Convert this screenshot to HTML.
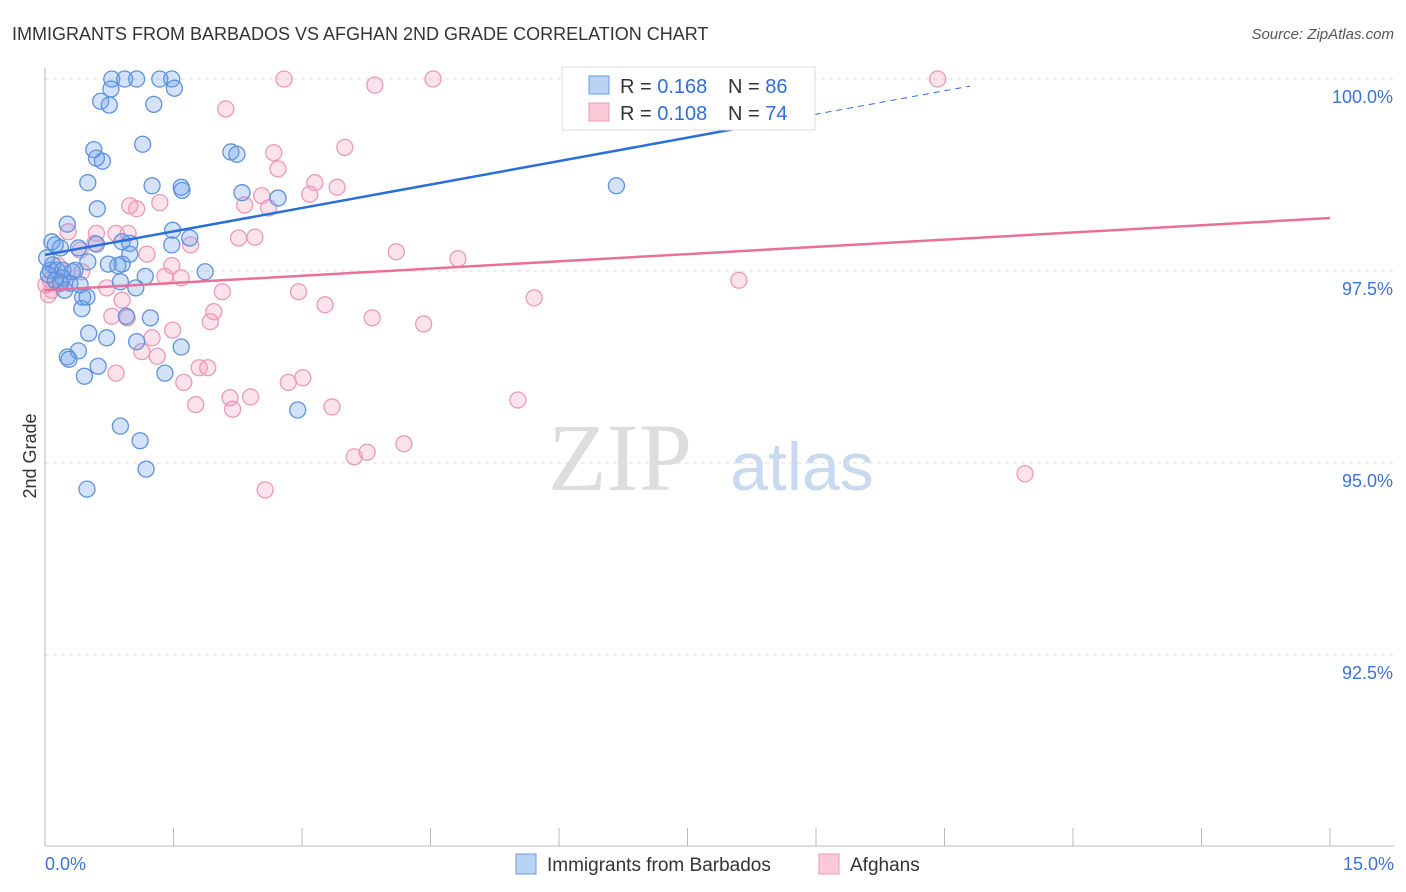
<!DOCTYPE html>
<html><head><meta charset="utf-8"><style>
body{margin:0;background:#fff;font-family:"Liberation Sans",sans-serif;}
svg{display:block}
</style></head><body>
<svg id="chart" width="1406" height="892">
<text x="12" y="40" font-size="18" fill="#333">IMMIGRANTS FROM BARBADOS VS AFGHAN 2ND GRADE CORRELATION CHART</text>
<text x="1394" y="39" font-size="15" fill="#555" font-style="italic" text-anchor="end">Source: ZipAtlas.com</text>
<text x="36" y="456" font-size="18" fill="#333" transform="rotate(-90 36 456)" text-anchor="middle">2nd Grade</text>
<text x="620" y="490" font-size="96" fill="#ddd" font-family="Liberation Serif" text-anchor="middle">ZIP</text>
<text x="802" y="490" font-size="68" fill="#c9d9ef" text-anchor="middle">atlas</text>
<g id="grid"></g><g id="axes"></g><g id="pts"></g><g id="trends"></g>
<g>
<rect x="562" y="67" width="253" height="63" fill="#fff" stroke="#ddd"/>
<rect x="589" y="76" width="20" height="18" fill="#b9d3f5" stroke="#6a9be0"/>
<text x="620" y="93" font-size="20" fill="#333">R = <tspan fill="#2e6fd6">0.168</tspan></text>
<text x="728" y="93" font-size="20" fill="#333">N = <tspan fill="#2e6fd6">86</tspan></text>
<rect x="589" y="103" width="20" height="18" fill="#f9c9d8" stroke="#e99ab5"/>
<text x="620" y="120" font-size="20" fill="#333">R = <tspan fill="#2e6fd6">0.108</tspan></text>
<text x="728" y="120" font-size="20" fill="#333">N = <tspan fill="#2e6fd6">74</tspan></text>
</g>
<g>
<rect x="516" y="854" width="20" height="20" fill="#b9d3f5" stroke="#6a9be0"/>
<text x="547" y="871" font-size="19" fill="#333">Immigrants from Barbados</text>
<rect x="819" y="854" width="20" height="20" fill="#f9c9d8" stroke="#e99ab5"/>
<text x="850" y="871" font-size="19" fill="#333">Afghans</text>
</g>
</svg>
<script>
const bx=[0.78,0.93,1.07,1.34,1.48,1.51,0.77,0.65,0.75,1.27,1.14,0.57,0.60,0.67,2.17,2.24,0.50,1.25,1.59,1.60,2.30,2.72,6.67,0.61,0.26,1.49,0.08,0.12,0.18,0.39,0.90,0.99,1.69,1.48,0.60,0.99,0.50,0.74,0.90,0.85,0.09,0.14,0.21,0.32,0.35,1.87,1.17,0.21,0.29,0.18,0.41,0.88,1.06,0.23,0.44,0.49,0.43,0.95,1.23,0.51,0.72,1.07,1.59,0.39,0.26,0.28,0.62,1.40,0.46,2.95,0.88,1.11,1.18,0.49,0.06,0.12,0.02,0.04];
const by=[100,100,100,100,100,99.88,99.87,99.71,99.66,99.67,99.15,99.08,98.97,98.93,99.05,99.02,98.65,98.61,98.59,98.55,98.52,98.45,98.61,98.31,98.11,98.03,97.88,97.84,97.80,97.80,97.88,97.86,97.93,97.84,97.85,97.72,97.62,97.59,97.59,97.57,97.58,97.51,97.51,97.49,97.51,97.49,97.43,97.41,97.34,97.34,97.32,97.36,97.28,97.25,97.16,97.16,97.01,96.91,96.89,96.69,96.63,96.58,96.51,96.46,96.38,96.35,96.26,96.17,96.13,95.69,95.48,95.29,94.92,94.66,97.51,97.38,97.67,97.45];
const px=[2.79,3.85,4.53,8.78,10.42,2.11,3.50,2.67,2.72,3.15,3.41,3.09,2.53,2.33,2.61,0.99,1.07,1.34,0.27,0.60,0.83,0.97,2.26,2.45,0.58,0.41,1.70,1.19,4.10,4.82,1.48,0.15,0.43,1.40,1.59,8.10,0.18,0.08,0.72,2.07,2.96,5.71,0.90,3.27,1.97,0.78,0.96,3.82,4.42,1.93,1.49,1.25,1.13,1.31,1.80,1.90,0.83,1.62,3.01,2.84,2.16,2.40,5.52,1.76,2.19,3.35,3.76,3.61,4.19,11.44,2.57,0.04,0.06,0.01];
const py=[100,99.92,100,100,100,99.61,99.11,99.04,98.83,98.65,98.59,98.50,98.48,98.36,98.32,98.35,98.31,98.39,98.01,97.99,97.99,97.99,97.93,97.94,97.86,97.77,97.84,97.72,97.75,97.66,97.57,97.57,97.49,97.43,97.41,97.38,97.36,97.25,97.28,97.23,97.23,97.15,97.12,97.06,96.97,96.91,96.89,96.89,96.81,96.84,96.73,96.63,96.45,96.39,96.24,96.24,96.17,96.05,96.11,96.05,95.85,95.86,95.82,95.76,95.70,95.73,95.14,95.08,95.25,94.86,94.65,97.19,97.38,97.32];
const yTicks=[100,97.5,95,92.5];
const yTickLabels=["100.0%","97.5%","95.0%","92.5%"];
const blueTrend=[97.71,0.2035,8.1,10.8];
const pinkTrend=[97.25,98.19];
const X=v=>45+v/15*1285, Y=v=>79+(100-v)*76.8;
const NS="http://www.w3.org/2000/svg";
function mk(tag,attrs,parent){const e=document.createElementNS(NS,tag);for(const k in attrs)e.setAttribute(k,attrs[k]);document.getElementById(parent).appendChild(e);return e;}
yTicks.forEach((t,i)=>{
 const l=mk('line',{x1:45,x2:1394,y1:Y(t),y2:Y(t),stroke:'#ddd','stroke-dasharray':'4,4'},'grid');
 
 
 const tx=mk('text',{x:1393,y:Y(t)+24,'font-size':18,fill:'#3b73d1','text-anchor':'end'},'grid');
 tx.textContent=yTickLabels[i];
 
 
});
let a=mk('line',{x1:45,x2:45,y1:68,y2:846,stroke:'#bbb'},'axes');


a=mk('line',{x1:45,x2:1394,y1:846,y2:846,stroke:'#bbb'},'axes');


for(let i=0;i<=10;i++){const t=mk('line',{x1:X(i*1.5),x2:X(i*1.5),y1:828,y2:846,stroke:'#bbb'},'axes');
 
 }
[[0,"0.0%","start",45],[15,"15.0%","end",1394]].forEach(d=>{const t=mk('text',{x:d[3],y:870,'font-size':18,fill:'#3b73d1','text-anchor':d[2]},'axes');t.textContent=d[1];
 
 });
px.forEach((v,i)=>{const c=mk('circle',{cx:X(v),cy:Y(py[i]),r:8,fill:'rgba(244,160,190,0.3)',stroke:'#eb9ab6','stroke-width':1.3},'pts');
 
 });
bx.forEach((v,i)=>{const c=mk('circle',{cx:X(v),cy:Y(by[i]),r:8,fill:'rgba(110,160,235,0.3)',stroke:'#5e92dc','stroke-width':1.3},'pts');
 
 });
const bf=x=>blueTrend[0]+blueTrend[1]*x;
let l=mk('line',{x1:X(0),y1:Y(bf(0)),x2:X(blueTrend[2]),y2:Y(bf(blueTrend[2])),stroke:'#2a6fd8','stroke-width':2.5},'trends');


l=mk('line',{x1:X(blueTrend[2]),y1:Y(bf(blueTrend[2])),x2:X(blueTrend[3]),y2:Y(bf(blueTrend[3])),stroke:'#2a6fd8','stroke-width':1,'stroke-dasharray':'6,5'},'trends');


l=mk('line',{x1:X(0),y1:Y(pinkTrend[0]),x2:X(15),y2:Y(pinkTrend[1]),stroke:'#e8709a','stroke-width':2.5},'trends');


</script>
</body></html>
